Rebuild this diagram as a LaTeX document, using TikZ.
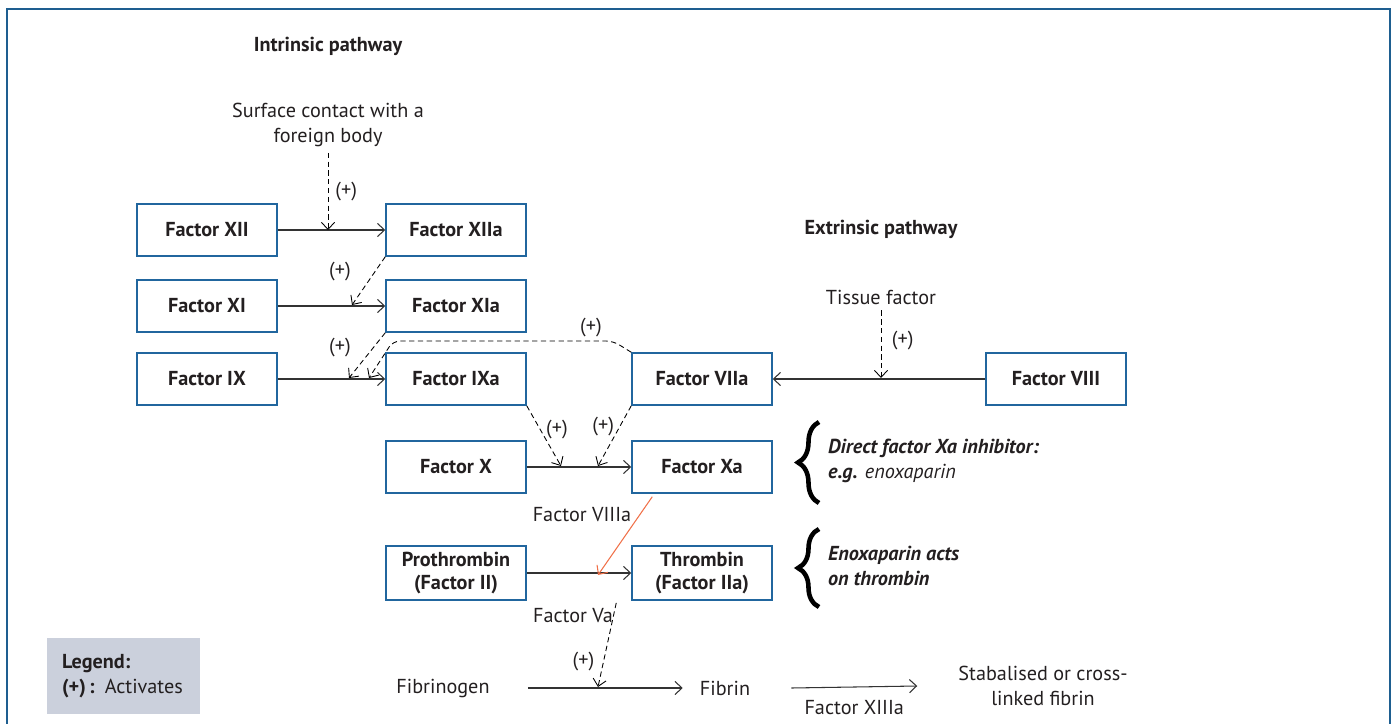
\documentclass[tikz,border=0pt]{standalone}
\usepackage{fontspec}
\setmainfont{PT Sans}
\usetikzlibrary{arrows.meta,decorations.pathreplacing}
\definecolor{boxblue}{RGB}{33,102,158}
\definecolor{framblue}{RGB}{30,94,144}
\definecolor{legfill}{RGB}{203,208,220}
\definecolor{redarr}{RGB}{240,112,72}
\definecolor{ink}{RGB}{35,31,32}
\begin{document}
\begin{tikzpicture}[x=0.02cm, y=-0.02cm,
font=\fontsize{11.5pt}{14pt}\selectfont, text=ink,
>={Straight Barb[length=4pt,width=7.5pt]},
box/.style={draw=boxblue, line width=0.85pt, minimum width=2.8cm,
  minimum height=1.04cm, font=\fontsize{11.5pt}{13.5pt}\selectfont\bfseries, align=center},
arr/.style={line width=0.6pt, draw=black!80},
act/.style={dashed, dash pattern=on 3pt off 2pt, line width=0.5pt},
plus/.style={inner sep=1pt},
brc/.style={decorate, decoration={brace, amplitude=0.42cm, aspect=0.5}, line width=2.6pt},
legend/.style={fill=legfill, minimum width=3.06cm, minimum height=1.52cm,
  text width=2.46cm, align=left}]
\useasboundingbox (0,0) rectangle (1394,724);
\draw[framblue, line width=1pt] (7,730) -- (7,9) -- (1390,9) -- (1390,730);
% intrinsic pathway
\node[font=\fontsize{11.5pt}{14pt}\selectfont\bfseries] (intr) at (328,46) {Intrinsic pathway};
\node[align=center] (surf) at (328,125) {Surface contact with a\\foreign body};
\node[box] (xii)  at (207,230) {Factor XII};
\node[box] (xiia) at (456,230) {Factor XIIa};
\node[box] (xi)   at (207,306) {Factor XI};
\node[box] (xia)  at (456,306) {Factor XIa};
\node[box] (ix)   at (207,379) {Factor IX};
\node[box] (ixa)  at (456,379) {Factor IXa};
% extrinsic pathway
\node[font=\fontsize{11.5pt}{14pt}\selectfont\bfseries] (extr) at (881,229) {Extrinsic pathway};
\node (tiss) at (881,297) {Tissue factor};
\node[box] (viia) at (702,379) {Factor VIIa};
\node[box] (viii) at (1056,379) {Factor VIII};
% common pathway
\node[box] (x)    at (456,467) {Factor X};
\node[box] (xa)   at (702,467) {Factor Xa};
\node[box] (pro)  at (456,573) {Prothrombin\\(Factor II)};
\node[box] (thr)  at (702,573) {Thrombin\\(Factor IIa)};
\node (f8a) at (582,515) {Factor VIIIa};
\node (f5a) at (573,616) {Factor Va};
\node (fgen) at (443,688) {Fibrinogen};
\node (fib)  at (725,688) {Fibrin};
\node[align=center] (stab) at (1043,686) {Stabalised or cross-\\linked fibrin};
%
\coordinate (m1) at (328,230);
\coordinate (m2) at (352,305);
\coordinate (m3) at (349,378);
\coordinate (m4) at (369,378);
\coordinate (m5) at (561,466);
\coordinate (m6) at (598,466);
\coordinate (m7) at (598,575);
\coordinate (m8) at (598,687);
\coordinate (m9) at (881,378);
%
\draw[->, arr] (xii) -- (xiia);
\draw[->, arr] (xi) -- (xia);
\draw[->, arr] (ix) -- (ixa);
\draw[->, arr] (viii) -- (viia);
\draw[->, arr] (x) -- (xa);
\draw[->, arr] (pro) -- (thr);
\draw[->, arr] ([xshift=0.64cm]fgen.east) -- ([xshift=-0.22cm]fib.west);
\draw[->, arr] ([xshift=0.7cm]fib.east) -- node[below=4pt] {Factor XIIIa} ([xshift=-0.7cm]stab.west);
%
\draw[->, act] (surf.south) -- node[plus, right=3pt, pos=0.5] {(+)} (m1);
\draw[->, act] (tiss.south) -- node[plus, right=5pt, pos=0.45] {(+)} (m9);
\draw[->, act] (xiia.south west) -- (m2);
\node[plus] at (340,272) {(+)};
\draw[->, act] (xia.south west) -- (m3);
\node[plus] at (340,348) {(+)};
\draw[->, act, rounded corners=4pt] (viia.north west) -- (613,341)
  -- node[plus, above=1pt, pos=0.1] {(+)} (393,341) -- (m4);
\draw[->, act] (ixa.south east) -- node[plus, right=2pt, pos=0.4] {(+)} (m5);
\draw[->, act] (viia.south west) -- node[plus, left=2pt, pos=0.35] {(+)} (m6);
\draw[->, arr, draw=redarr] ([xshift=0.42cm, yshift=-0.06cm]xa.south west) -- (m7);
\draw[->, act] ([xshift=-0.3cm, yshift=-0.04cm]thr.south west) -- node[plus, left=4pt, pos=0.7] {(+)} (m8);
% inhibitors
\draw[brc] (819,503) -- (819,422);
\node[anchor=west, align=left, font=\fontsize{11.5pt}{14pt}\selectfont\itshape] (inh1) at (822,461)
  {\textbf{Direct factor Xa inhibitor:}\\\textbf{e.g.} enoxaparin};
\draw[brc] (819,607) -- (819,529);
\node[anchor=west, align=left, font=\fontsize{11.5pt}{14pt}\selectfont\bfseries\itshape] (inh2) at (822,566)
  {Enoxaparin acts\\on thrombin};
% legend
\node[legend] (leg) at (123.5,676) {\textbf{Legend:}\\\textbf{(+)\,:} Activates};
\end{tikzpicture}
\end{document}
